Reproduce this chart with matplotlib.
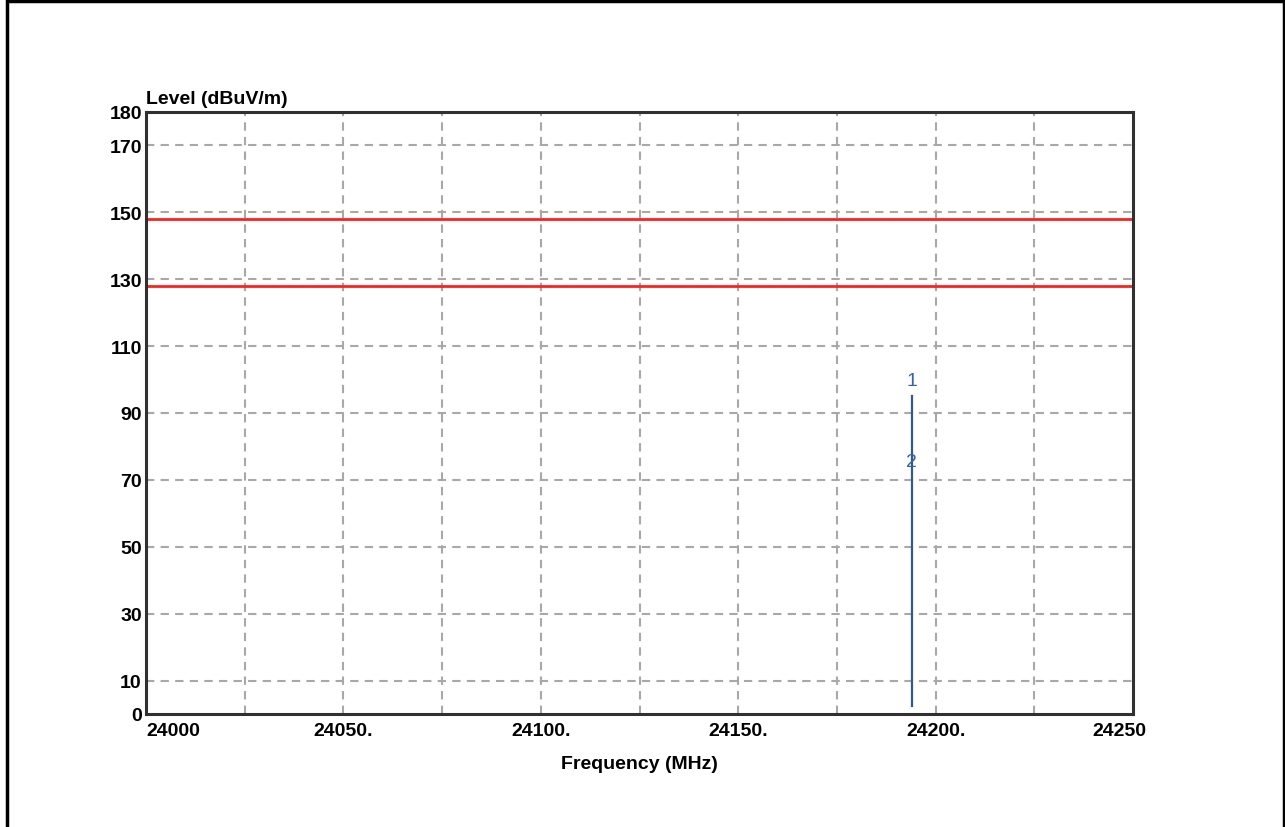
import matplotlib.pyplot as plt
import matplotlib.transforms as mtransforms
from matplotlib.patches import Rectangle

# spectrum trace (single narrow spike) and limits
trace_freq = [24194.0, 24194.0]
trace_level = [2.5, 95.2]
limit_levels = [148.0, 128.0]

# markers
marker_ids = ["1", "2"]
marker_freq = [24194.0, 24194.0]
marker_level = [95.2, 71.0]

x_ticks = [24000, 24050, 24100, 24150, 24200, 24250]
x_labels = ["24000", "24050.", "24100.", "24150.", "24200.", "24250"]
y_ticks = [0, 10, 30, 50, 70, 90, 110, 130, 150, 170, 180]

font = ['Liberation Sans', 'DejaVu Sans']
plt.rcParams['font.family'] = font

fig = plt.figure(figsize=(12.85, 8.28), dpi=100)
ax = fig.add_axes([146 / 1285, 113 / 828, 987 / 1285, 602 / 828])

# outer frame around the whole picture
fig.patches.append(Rectangle((7 / 1285, -0.05), 1277 / 1285, 1.05 - 1.5 / 828,
                             transform=fig.transFigure, fill=False,
                             edgecolor='black', linewidth=2.5, zorder=0))

ax.set_xlim(24000, 24250)
ax.set_ylim(0, 180)

# grid: x every 25 MHz, y at the labelled levels (not edges)
for gx in range(24025, 24250, 25):
    ax.axvline(gx, color='#a8a8a8', lw=1.5, ls=(0, (4, 3)), zorder=1)
for gy in y_ticks[1:-1]:
    ax.axhline(gy, color='#a8a8a8', lw=1.5, ls=(0, (4, 3)), zorder=1)

for lv in limit_levels:
    ax.axhline(lv, color='#ff2020', lw=2, zorder=2)

ax.plot(trace_freq, trace_level, color='#2f5a8a', lw=1.6, zorder=3)

for mid, mf, ml in zip(marker_ids, marker_freq, marker_level):
    ax.annotate(mid, (mf, ml), xytext=(0, 11), textcoords='offset points',
                ha='center', va='center', color='#3565a5', fontsize=14,
                family=font, zorder=4)

ax.set_xticks(x_ticks)
ax.set_xticklabels(x_labels, fontsize=14, fontweight='bold')
ax.set_yticks(y_ticks)
ax.set_yticklabels([str(v) for v in y_ticks], fontsize=14, fontweight='bold')
ax.tick_params(axis='both', length=0)
ax.tick_params(axis='y', pad=3)
ax.tick_params(axis='x', pad=6)

xl = ax.get_xticklabels()
xl[0].set_ha('left')
xl[-1].set_transform(xl[-1].get_transform() +
                     mtransforms.ScaledTranslation(-0.14, 0, fig.dpi_scale_trans))

for s in ax.spines.values():
    s.set_linewidth(2.2)
    s.set_color('#303030')

ax.set_xlabel("Frequency (MHz)", fontsize=14, fontweight='bold', labelpad=11)
ax.text(0, 1.008, "Level (dBuV/m)", transform=ax.transAxes, ha='left',
        va='bottom', fontsize=14, fontweight='bold')

fig.savefig("out.png", dpi=100)
